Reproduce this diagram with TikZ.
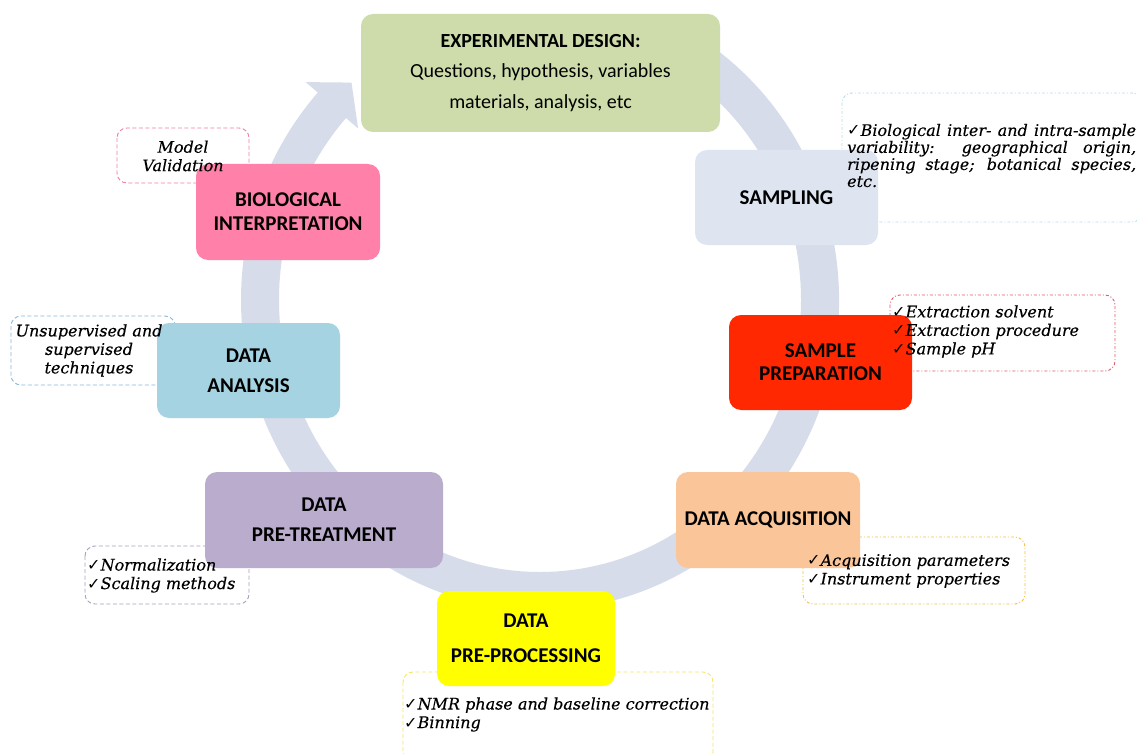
\documentclass[tikz,border=0pt]{standalone}
\usepackage{fontspec}
\setmainfont{Carlito}
\newfontfamily\annfont{DejaVu Serif}[FakeBold=0.25]
\newfontfamily\symfont{DejaVu Sans}
\usetikzlibrary{calc}
\definecolor{ringc}{RGB}{214,220,233}
\definecolor{expc}{RGB}{205,220,170}
\definecolor{sampc}{RGB}{222,229,241}
\definecolor{prepc}{RGB}{255,40,0}
\definecolor{acqc}{RGB}{250,197,152}
\definecolor{procc}{RGB}{255,255,0}
\definecolor{treatc}{RGB}{186,172,204}
\definecolor{analc}{RGB}{165,211,225}
\definecolor{bioc}{RGB}{255,128,168}
\definecolor{sampb}{RGB}{183,221,232}
\definecolor{prepb}{RGB}{222,90,105}
\definecolor{acqb}{RGB}{245,192,70}
\definecolor{procb}{RGB}{250,228,100}
\definecolor{treatb}{RGB}{172,158,192}
\definecolor{analb}{RGB}{135,185,222}
\definecolor{biob}{RGB}{240,125,165}
\newcommand\ck{{\symfont\fontsize{16}{16}\selectfont ✓}}
\tikzset{
  mbox/.style={rounded corners=12pt, inner sep=0pt, align=center, text=black},
  abox/.style={rounded corners=10pt, line width=0.9pt},
  atext/.style={inner sep=0pt, font=\annfont\itshape\fontsize{16}{18.5}\selectfont, text=black},
  dashdot/.style={dash pattern=on 3pt off 2pt on 1pt off 2pt},
  dsh/.style={dash pattern=on 4pt off 2.5pt},
}
\begin{document}
\begin{tikzpicture}[x=1pt,y=1pt]
\fill[white] (0,0) rectangle (1137,-754);
\useasboundingbox (0,0) rectangle (1137,-754);
% ring arrow
\coordinate (rc) at (540,-300);
\coordinate (hb1) at (305.7,-82.1);
\coordinate (htip) at (351.5,-82.6);
\coordinate (hb2) at (358.1,-128.5);
\fill[ringc] ($(rc)+(62:299pt and 310pt)$) arc[start angle=62, end angle=-222, x radius=299pt, y radius=310pt]
  -- (hb1) -- (htip) -- (hb2)
  -- ($(rc)+(-222:261pt and 272pt)$) arc[start angle=-222, end angle=62, x radius=261pt, y radius=272pt] -- cycle;
% annotation borders
\draw[abox, sampb, dashdot] (842,-93) rectangle (1142,-222);
\draw[abox, prepb, dashdot] (890,-295) rectangle (1115,-371);
\draw[abox, acqb, dashdot] (803,-537) rectangle (1025,-604);
\draw[abox, procb, dsh] (403,-672) rectangle (713,-762);
\draw[abox, treatb, dsh] (85,-546) rectangle (249,-604);
\draw[abox, analb, dsh] (11,-316) rectangle (175,-385);
\draw[abox, biob, dsh] (117,-128) rectangle (249,-183);
% main boxes
\node[mbox, fill=expc, minimum width=359pt, minimum height=118pt, font=\fontsize{20}{30.5}\selectfont] (exp) at (540.5,-73)
  {\textbf{EXPERIMENTAL DESIGN:}\\Questions, hypothesis, variables\\materials, analysis, etc};
\node[mbox, fill=sampc, minimum width=183pt, minimum height=95pt, font=\bfseries\fontsize{21}{24}\selectfont] (samp) at (786.5,-197.5) {SAMPLING};
\node[mbox, fill=prepc, minimum width=183pt, minimum height=95pt, font=\bfseries\fontsize{21}{23}\selectfont] (prep) at (820.5,-362.5) {SAMPLE\\PREPARATION};
\node[mbox, fill=acqc, minimum width=184pt, minimum height=96pt, font=\bfseries\fontsize{21}{24}\selectfont] (acq) at (768,-520) {DATA ACQUISITION};
\node[mbox, fill=procc, minimum width=178pt, minimum height=95pt, font=\bfseries\fontsize{21}{35}\selectfont] (proc) at (526,-638.5) {DATA\\PRE-PROCESSING};
\node[mbox, fill=treatc, minimum width=238pt, minimum height=96pt, font=\bfseries\fontsize{21}{30}\selectfont] (treat) at (324,-520) {DATA\\PRE-TREATMENT};
\node[mbox, fill=analc, minimum width=183pt, minimum height=95pt, font=\bfseries\fontsize{21}{30}\selectfont] (anal) at (248.5,-370.5) {DATA\\ANALYSIS};
\node[mbox, fill=bioc, minimum width=184pt, minimum height=96pt, font=\bfseries\fontsize{21}{24}\selectfont] (bio) at (288,-212) {BIOLOGICAL\\INTERPRETATION};
% annotation texts
\node[atext, anchor=west, align=left, font=\annfont\itshape\fontsize{16}{17}\selectfont] (sampt) at (847,-155.5)
  {\makebox[289pt][s]{\ck Biological inter- and intra-sample}\\
   \makebox[289pt][s]{variability: geographical origin,}\\
   \makebox[289pt][s]{ripening stage; botanical species,}\\
   etc.};
\node[atext, anchor=west, align=left] (prept) at (892,-331.5)
  {\ck Extraction solvent\\\ck Extraction procedure\\\ck Sample pH};
\node[atext, anchor=west, align=left] (acqt) at (807,-571)
  {\ck Acquisition parameters\\\ck Instrument properties};
\node[atext, anchor=west, align=left] (proct) at (404,-714.5)
  {\ck NMR phase and baseline correction\\\ck Binning};
\node[atext, anchor=west, align=left] (treatt) at (87,-575.5)
  {\ck Normalization\\\ck Scaling methods};
\node[atext, align=center] (analt) at (89,-350.5)
  {Unsupervised and\\supervised\\techniques};
\node[atext, align=center] (biot) at (183,-156)
  {Model\\Validation};
\end{tikzpicture}
\end{document}
